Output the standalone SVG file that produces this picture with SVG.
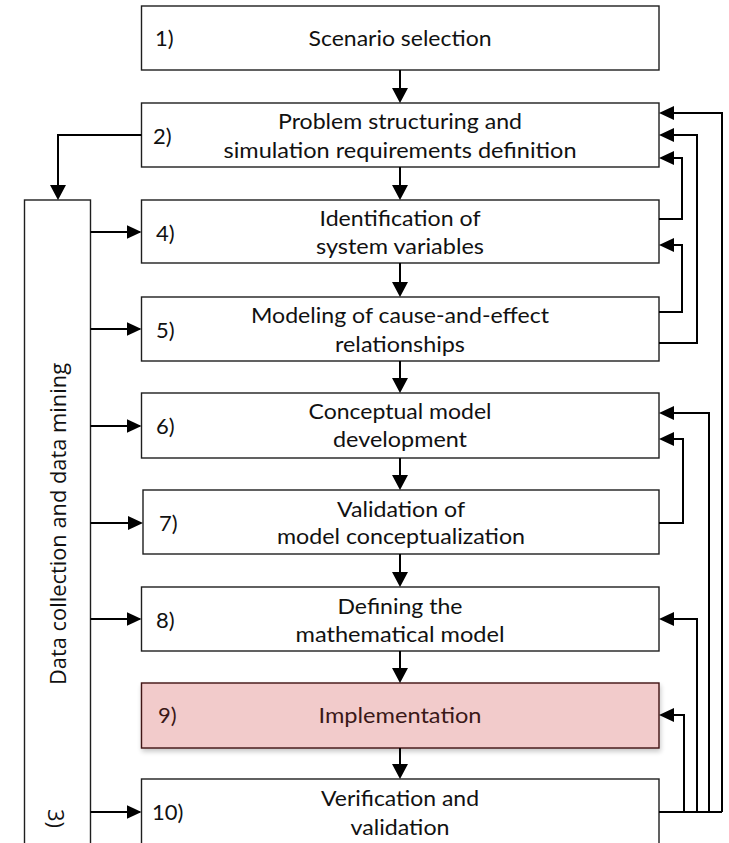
<svg xmlns="http://www.w3.org/2000/svg" width="729" height="843" viewBox="0 0 729 843">
  <style>
    .box { fill: #ffffff; stroke: #1e1e1e; stroke-width: 1.4; }
    .hot { fill: #f2cbcb; stroke: #3f1212; stroke-width: 1.4; }
    .lbl { font-family: Lato, "Open Sans", "Liberation Sans", sans-serif; font-size: 21px; fill: #111111; }
    .num { font-size: 22px; }
    .mid { text-anchor: middle; }
    .hotlbl { fill: #3a1818; }
    .side { font-family: "Open Sans", "DejaVu Sans", sans-serif; font-size: 22px; fill: #111111; }
    .wire { fill: none; stroke: #000000; stroke-width: 2; }
    .arrH { marker-end: url(#tipH); }
    .arrV { marker-end: url(#tipV); }
  </style>
  <defs>
    <marker id="tipH" viewBox="0 0 15 14" refX="13" refY="7" markerWidth="15" markerHeight="14" markerUnits="userSpaceOnUse" orient="auto">
      <path d="M0,0 L15,7 L0,14 Z" fill="#000000"/>
    </marker>
    <marker id="tipV" viewBox="0 0 15 16" refX="13" refY="8" markerWidth="15" markerHeight="16" markerUnits="userSpaceOnUse" orient="auto">
      <path d="M0,0 L15,8 L0,16 Z" fill="#000000"/>
    </marker>
    <filter id="soft" x="-5%" y="-20%" width="110%" height="150%">
      <feGaussianBlur in="SourceAlpha" stdDeviation="2.5"/>
      <feOffset dx="1" dy="3" result="b"/>
      <feComponentTransfer><feFuncA type="linear" slope="0.22"/></feComponentTransfer>
      <feMerge><feMergeNode/><feMergeNode in="SourceGraphic"/></feMerge>
    </filter>
  </defs>

  <!-- side column: data collection -->
  <g id="n3">
    <rect class="box" x="24.5" y="200" width="66" height="700"/>
    <text class="side" transform="translate(66,524) rotate(-90)" text-anchor="middle" textLength="322" lengthAdjust="spacingAndGlyphs">Data collection and data mining</text>
    <text class="side" transform="translate(48,809) rotate(90)">3)</text>
  </g>

  <g id="n1">
    <rect class="box" x="141.5" y="6" width="517.5" height="64"/>
    <text class="lbl num" x="155" y="46">1)</text>
    <text class="lbl mid" x="400" y="46" textLength="183" lengthAdjust="spacingAndGlyphs">Scenario selection</text>
  </g>

  <g id="n2">
    <rect class="box" x="141.5" y="103" width="517.5" height="64"/>
    <text class="lbl num" x="153" y="144">2)</text>
    <text class="lbl mid" x="400" y="129" textLength="244" lengthAdjust="spacingAndGlyphs">Problem structuring and</text>
    <text class="lbl mid" x="400" y="158" textLength="353" lengthAdjust="spacingAndGlyphs">simulation requirements definition</text>
  </g>

  <g id="n4">
    <rect class="box" x="141.5" y="200" width="517.5" height="63"/>
    <text class="lbl num" x="156" y="241">4)</text>
    <text class="lbl mid" x="400" y="226" textLength="161" lengthAdjust="spacingAndGlyphs">Identification of</text>
    <text class="lbl mid" x="400" y="254" textLength="168" lengthAdjust="spacingAndGlyphs">system variables</text>
  </g>

  <g id="n5">
    <rect class="box" x="141.5" y="297" width="517.5" height="64"/>
    <text class="lbl num" x="156" y="338">5)</text>
    <text class="lbl mid" x="400" y="323" textLength="298" lengthAdjust="spacingAndGlyphs">Modeling of cause-and-effect</text>
    <text class="lbl mid" x="400" y="352" textLength="130" lengthAdjust="spacingAndGlyphs">relationships</text>
  </g>

  <g id="n6">
    <rect class="box" x="141.5" y="393" width="517.5" height="65"/>
    <text class="lbl num" x="156" y="434">6)</text>
    <text class="lbl mid" x="400" y="419" textLength="183" lengthAdjust="spacingAndGlyphs">Conceptual model</text>
    <text class="lbl mid" x="400" y="447" textLength="134" lengthAdjust="spacingAndGlyphs">development</text>
  </g>

  <g id="n7">
    <rect class="box" x="143" y="490" width="516" height="64"/>
    <text class="lbl num" x="159" y="531">7)</text>
    <text class="lbl mid" x="401" y="517" textLength="128" lengthAdjust="spacingAndGlyphs">Validation of</text>
    <text class="lbl mid" x="401" y="544" textLength="248" lengthAdjust="spacingAndGlyphs">model conceptualization</text>
  </g>

  <g id="n8">
    <rect class="box" x="141.5" y="587" width="517.5" height="64"/>
    <text class="lbl num" x="156" y="628">8)</text>
    <text class="lbl mid" x="400" y="614" textLength="125" lengthAdjust="spacingAndGlyphs">Defining the</text>
    <text class="lbl mid" x="400" y="642" textLength="209" lengthAdjust="spacingAndGlyphs">mathematical model</text>
  </g>

  <g id="n9">
    <rect class="hot" x="141.5" y="683" width="517.5" height="65" filter="url(#soft)"/>
    <text class="lbl num hotlbl" x="158" y="723">9)</text>
    <text class="lbl mid hotlbl" x="400" y="723" textLength="163" lengthAdjust="spacingAndGlyphs">Implementation</text>
  </g>

  <g id="n10">
    <rect class="box" x="141.5" y="779" width="517.5" height="120"/>
    <text class="lbl num" x="152" y="820">10)</text>
    <text class="lbl mid" x="400" y="806" textLength="158" lengthAdjust="spacingAndGlyphs">Verification and</text>
    <text class="lbl mid" x="400" y="835" textLength="99" lengthAdjust="spacingAndGlyphs">validation</text>
  </g>

  <g id="connectors">
    <!-- main sequence -->
    <path class="wire arrV" d="M400,70 V101"/>
    <path class="wire arrV" d="M400,167 V198"/>
    <path class="wire arrV" d="M400,263 V295"/>
    <path class="wire arrV" d="M400,361 V391"/>
    <path class="wire arrV" d="M400,458 V488"/>
    <path class="wire arrV" d="M400,554 V585"/>
    <path class="wire arrV" d="M400,651 V681"/>
    <path class="wire arrV" d="M400,748 V777"/>

    <!-- into and out of the data column -->
    <path class="wire arrV" d="M141.5,135 H58 V198"/>
    <path class="wire arrH" d="M90.5,232 H139.5"/>
    <path class="wire arrH" d="M90.5,329 H139.5"/>
    <path class="wire arrH" d="M90.5,426 H139.5"/>
    <path class="wire arrH" d="M90.5,523 H141"/>
    <path class="wire arrH" d="M90.5,619 H139.5"/>
    <path class="wire arrH" d="M90.5,812 H139.5"/>

    <!-- feedback loops -->
    <path class="wire arrH" d="M659,219 H682 V158 H661"/>
    <path class="wire arrH" d="M659,312 H682 V245 H661"/>
    <path class="wire arrH" d="M659,343 H697 V135 H661"/>
    <path class="wire arrH" d="M659,523 H683 V439 H661"/>
    <path class="wire" d="M659,812 H722"/>
    <path class="wire arrH" d="M684,812 V715 H661"/>
    <path class="wire arrH" d="M697,812 V619 H661"/>
    <path class="wire arrH" d="M709,812 V413 H661"/>
    <path class="wire arrH" d="M722,812 V113 H661"/>
  </g>
</svg>
